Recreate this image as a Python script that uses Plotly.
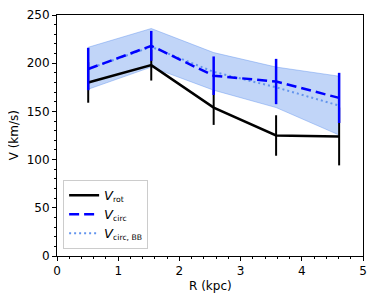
import plotly.graph_objects as go

R = [0.51, 1.54, 2.56, 3.58, 4.61]
v_rot = [180, 198, 154, 125, 124]
v_rot_err = [21, 16, 18, 21, 30]
v_circ = [194, 218, 187, 181, 164]
v_circ_err = [22, 15.5, 20, 23.5, 26]
v_bb = [194, 217, 191, 175, 156]
band_hi = [216.5, 236, 211, 196, 186.5]
band_lo = [173, 196, 172, 154, 125.5]

V = "<span style='font-size:13px'><i>V</i></span>"

fig = go.Figure()
fig.add_trace(go.Scatter(x=R, y=band_hi, mode="lines",
                         line=dict(color="rgba(100,149,237,0.45)", width=1),
                         showlegend=False, hoverinfo="skip"))
fig.add_trace(go.Scatter(x=R, y=band_lo, mode="lines", fill="tonexty",
                         fillcolor="rgba(100,149,237,0.4)",
                         line=dict(color="rgba(100,149,237,0.45)", width=1),
                         showlegend=False, hoverinfo="skip"))
fig.add_trace(go.Scatter(x=R, y=v_bb, mode="lines",
                         line=dict(color="#6495ED", width=2, dash="2px,3px"),
                         showlegend=False))
fig.add_trace(go.Scatter(x=R, y=v_rot, mode="lines",
                         line=dict(color="black", width=2.5),
                         error_y=dict(type="data", array=v_rot_err, color="black",
                                      thickness=2, width=0),
                         name=V + "<sub>rot</sub>"))
fig.add_trace(go.Scatter(x=R, y=v_circ, mode="lines",
                         line=dict(color="#0000ff", width=2.5, dash="10px,5px"),
                         error_y=dict(type="data", array=v_circ_err, color="#0000ff",
                                      thickness=2.5, width=0),
                         name=V + "<sub>circ</sub>"))
fig.add_trace(go.Scatter(x=[None], y=[None], mode="lines",
                         line=dict(color="#6495ED", width=2, dash="2px,3px"),
                         name=V + "<sub>circ, BB</sub>"))

axis_common = dict(showline=True, linecolor="black", linewidth=1, mirror=True,
                   ticks="outside", ticklen=4, tickcolor="black", showgrid=False,
                   zeroline=False, automargin=False,
                   tickfont=dict(family="DejaVu Sans", size=12, color="black"))
fig.update_xaxes(range=[0, 5], dtick=1,
                 minor=dict(ticks="outside", ticklen=2, dtick=0.2, tickcolor="black"),
                 **axis_common)
fig.update_yaxes(range=[0, 250], dtick=50,
                 minor=dict(ticks="outside", ticklen=2, dtick=10, tickcolor="black"),
                 **axis_common)
fig.add_annotation(text="R (kpc)", xref="paper", yref="paper", x=0.5, y=-0.124,
                   xanchor="center", yanchor="middle", showarrow=False,
                   font=dict(family="DejaVu Sans", size=12, color="black"))
fig.add_annotation(text="V (km/s)", xref="paper", yref="paper", x=-0.141, y=0.5,
                   xanchor="center", yanchor="middle", showarrow=False, textangle=-90,
                   font=dict(family="DejaVu Sans", size=12, color="black"))
fig.update_layout(width=375, height=293, margin=dict(l=49, r=20, t=7, b=45),
                  plot_bgcolor="white", paper_bgcolor="white",
                  font=dict(family="DejaVu Sans", size=12, color="black"),
                  legend=dict(x=0.02, y=0.03, xanchor="left", yanchor="bottom",
                              traceorder="normal",
                              bgcolor="rgba(255,255,255,0.8)", bordercolor="#cccccc",
                              borderwidth=1, tracegroupgap=0,
                              font=dict(family="DejaVu Sans", size=11),
                              itemwidth=30))
fig.write_html("out.html")
